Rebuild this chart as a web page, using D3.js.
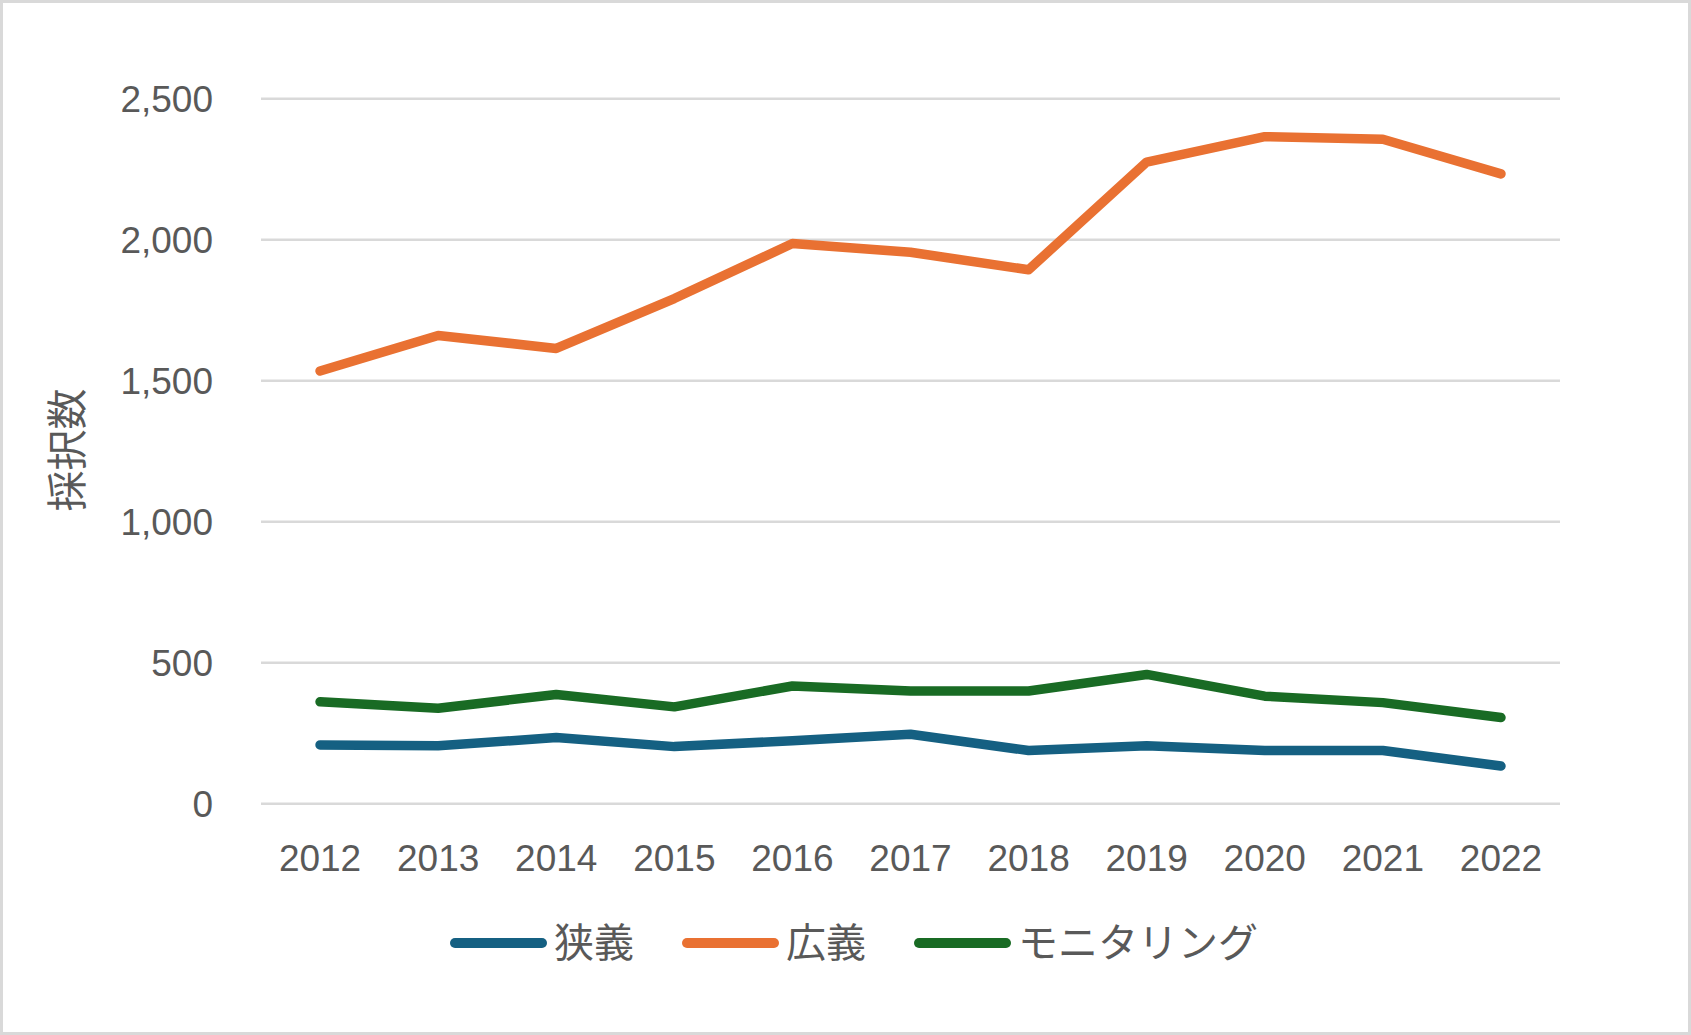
<!DOCTYPE html>
<html><head><meta charset="utf-8">
<script src="https://cdn.jsdelivr.net/npm/d3@7"></script>
<style>html,body{margin:0;padding:0;background:#fff;}svg{display:block;}</style>
</head><body>
<svg id="chart" width="1691" height="1035"></svg>
<script>
const years = ["2012","2013","2014","2015","2016","2017","2018","2019","2020","2021","2022"];
const narrow = [207,204,233,201,222,245,187,204,187,187,132];
const broad = [1533,1659,1613,1790,1985,1954,1892,2274,2364,2355,2232];
const monitoring = [360,337,386,342,416,398,398,457,380,357,304];
const yTicks = [0,500,1000,1500,2000,2500];
const seriesNames = ["狭義","広義","モニタリング"];
const seriesColors = ["#156082","#E97132","#196B24"];

(function(){
const svg = d3.select("#chart");
const W = 1691, H = 1035;
svg.append("rect").attr("x",1.5).attr("y",1.5).attr("width",W-3).attr("height",H-3)
  .attr("fill","#fff").attr("stroke","#d9d9d9").attr("stroke-width",3);

const pLeft = 261, pRight = 1560, pTop = 98.3, pBottom = 803.3;
const x = d3.scaleBand().domain(years).range([pLeft,pRight]);
const y = d3.scaleLinear().domain([0,2500]).range([pBottom,pTop]);
const textColor = "#595959";
const numFont = "'Liberation Sans', Arial, sans-serif";
const cjkFont = "'Noto Sans CJK JP', sans-serif";

const yAxis = d3.axisLeft(y).tickValues(yTicks).tickSize(-(pRight-pLeft)).tickPadding(48)
  .tickFormat(d3.format(","));
const gy = svg.append("g").attr("transform",`translate(${pLeft},0)`).call(yAxis);
gy.select(".domain").remove();
gy.selectAll(".tick line").attr("stroke","#d9d9d9").attr("stroke-width",2.5);
gy.selectAll(".tick text").attr("fill",textColor).attr("font-family",numFont)
  .attr("font-size",37).attr("dy","0.35em");

const xAxis = d3.axisBottom(x).tickSize(0).tickPadding(41);
const gx = svg.append("g").attr("transform",`translate(0,${pBottom})`).call(xAxis);
gx.select(".domain").remove();
gx.selectAll(".tick text").attr("fill",textColor).attr("font-family",numFont)
  .attr("font-size",37);

svg.append("text").attr("transform",`translate(82,450) rotate(-90)`)
  .attr("text-anchor","middle").attr("fill",textColor).attr("font-family",cjkFont)
  .attr("font-size",41).text("採択数");

const data = [narrow, broad, monitoring];
const line = d3.line().x((d,i)=>x(years[i])+x.bandwidth()/2).y(d=>y(d));
data.forEach((vals,k)=>{
  svg.append("path").datum(vals).attr("d",line).attr("fill","none")
    .attr("stroke",seriesColors[k]).attr("stroke-width",9.5)
    .attr("stroke-linecap","round").attr("stroke-linejoin","round");
});

const lg = svg.append("g");
let cx = 0;
seriesNames.forEach((name,k)=>{
  const g = lg.append("g");
  g.append("line").attr("x1",cx+5).attr("x2",cx+92).attr("y1",0).attr("y2",0)
    .attr("stroke",seriesColors[k]).attr("stroke-width",10).attr("stroke-linecap","round");
  const t = g.append("text").attr("x",cx+104).attr("y",0).attr("dy","0.35em")
    .attr("fill",textColor).attr("font-family",cjkFont).attr("font-size",40).text(name);
  const w = t.node().getComputedTextLength();
  cx += 104 + w + 48;
});
lg.attr("transform",`translate(450,943)`);
})();
</script>
</body></html>
